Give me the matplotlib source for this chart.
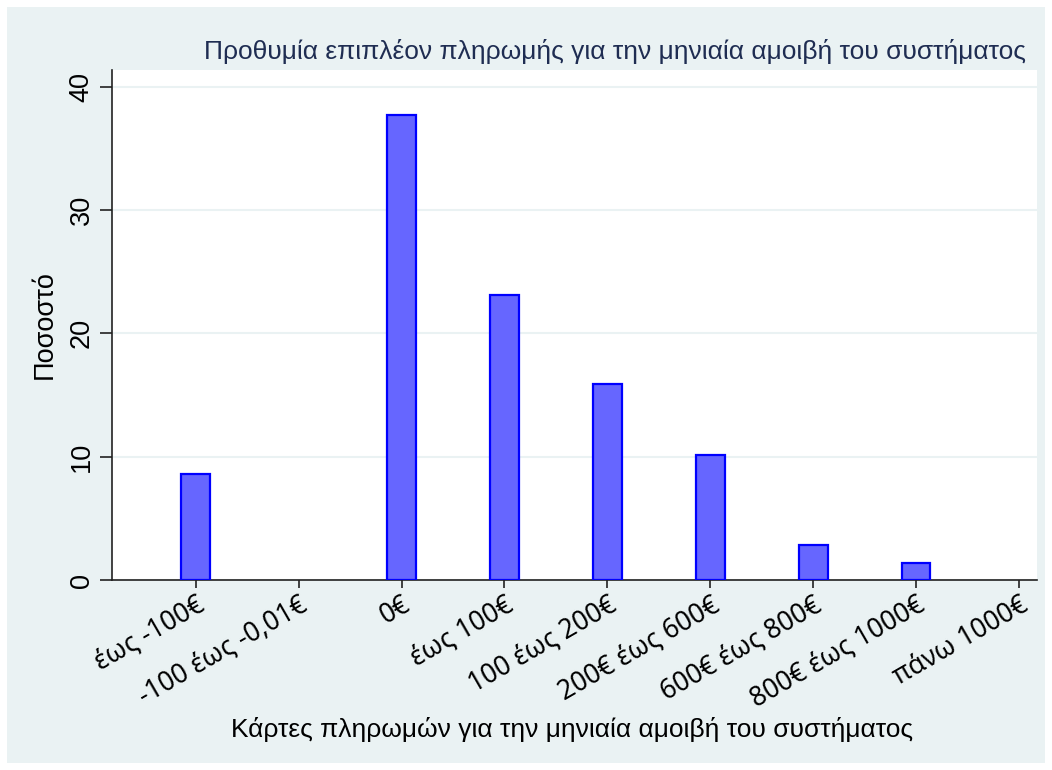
import matplotlib.pyplot as plt
from matplotlib.patches import Rectangle

# Ποσοστό ανά κατηγορία πληρωμής
categories = ["έως -100€", "-100 έως -0,01€", "0€", "έως 100€", "100 έως 200€",
              "200€ έως 600€", "600€ έως 800€", "800€ έως 1000€", "πάνω 1000€"]
percent = [8.6, 0.0, 37.7, 23.1, 15.9, 10.1, 2.8, 1.4, 0.0]
yticks = [0, 10, 20, 30, 40]

title = "Προθυμία επιπλέον πληρωμής για την μηνιαία αμοιβή του συστήματος"
xlabel = "Κάρτες πληρωμών για την μηνιαία αμοιβή του συστήματος"
ylabel = "Ποσοστό"

W, H = 1052, 770
fig = plt.figure(figsize=(W / 100, H / 100), dpi=100, facecolor="white")

# light graph region behind everything
bg = Rectangle((7 / W, 7 / H), (1045 - 7) / W, (763 - 7) / H,
               transform=fig.transFigure, facecolor="#eaf2f3", edgecolor="none", zorder=-10)
fig.add_artist(bg)

ax = fig.add_axes([112 / W, (H - 580) / H, (1036.5 - 112) / W, (580 - 70) / H])
ax.set_facecolor("white")

x = list(range(1, len(categories) + 1))
# empty categories get no bar outline
bx = [xi for xi, v in zip(x, percent) if v > 0]
bv = [v for v in percent if v > 0]
ax.bar(bx, bv, width=0.28, color="#6666ff", edgecolor="#0000ff", linewidth=1.6, zorder=3)

ax.set_xlim(0.187, 9.17)
ax.set_ylim(0, 41.35)
ax.set_yticks(yticks)
ax.yaxis.grid(True, color="#eaf2f3", linewidth=1.5, zorder=0)
ax.set_axisbelow(True)

for s in ["top", "right"]:
    ax.spines[s].set_visible(False)
for s in ["left", "bottom"]:
    ax.spines[s].set_linewidth(1.2)
    ax.spines[s].set_color("#222222")

ax.tick_params(axis="y", length=8.6, width=1.2, color="#222222", pad=4)
ax.tick_params(axis="x", length=6, width=1.2, color="#222222", pad=2)

ax.set_yticklabels([str(v) for v in yticks], rotation=90, va="center",
                   fontsize=19.5, family="Liberation Sans")
ax.set_xticks(x)
ax.set_xticklabels(categories, rotation=30, ha="right", rotation_mode="anchor",
                   fontsize=19, family="Noto Sans")

ax.set_ylabel(ylabel, fontsize=19.5, family="Liberation Sans", labelpad=8)
fig.text(572 / W, 1 - 729 / H, xlabel, ha="center", va="center", fontsize=19,
         family="Liberation Sans")
fig.text(1026 / W, 1 - 51 / H, title, ha="right", va="center", fontsize=19,
         color="#1f2d52", family="Liberation Sans")

fig.savefig("out.png", dpi=100, facecolor="white")
